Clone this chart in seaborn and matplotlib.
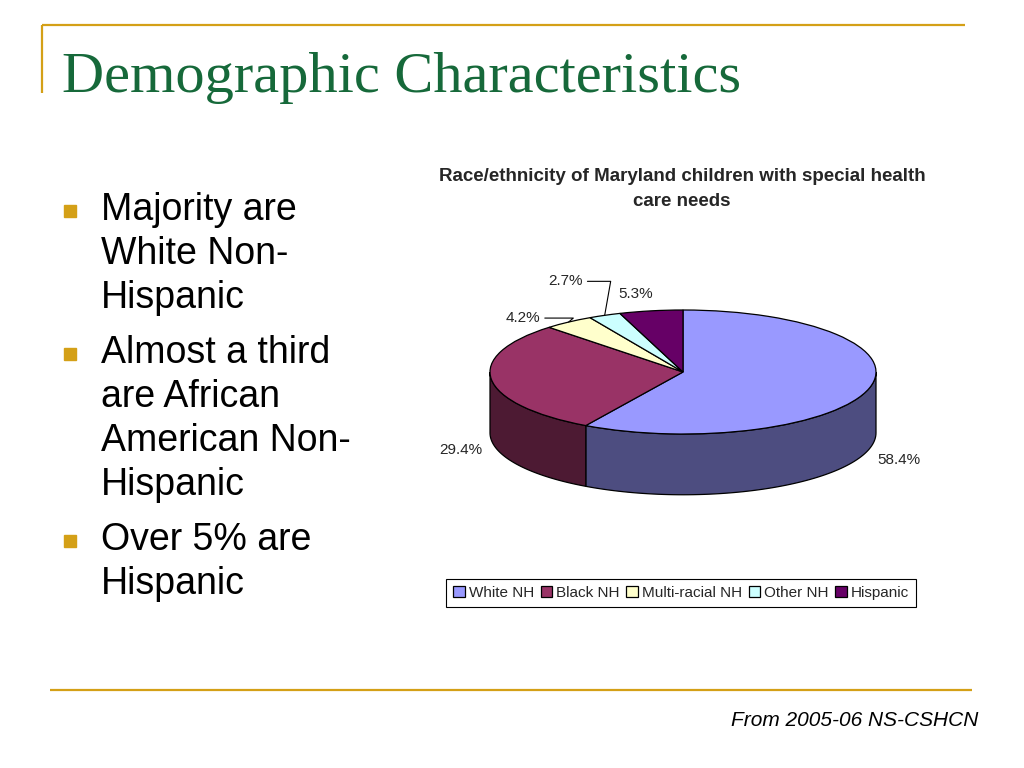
"""
Slide: Demographic Characteristics
3-D style pie of race/ethnicity for Maryland CSHCN, drawn with matplotlib/seaborn.
"""

import numpy as np
import matplotlib
matplotlib.use("Agg")
import matplotlib.pyplot as plt
import matplotlib.colors as mcolors
from matplotlib.patches import Polygon
import seaborn as sns


# =====================================================
# 1. Data
# =====================================================

groups = ["White NH", "Black NH", "Multi-racial NH", "Other NH", "Hispanic"]
shares = [58.4, 29.4, 4.2, 2.7, 5.3]
slice_colors = ["#9999FF", "#993366", "#FFFFCC", "#CCFFFF", "#660066"]

slide_title = "Demographic Characteristics"
chart_title = "Race/ethnicity of Maryland children with special health\ncare needs"
bullets = [
    ["Majority are", "White Non-", "Hispanic"],
    ["Almost a third", "are African", "American Non-", "Hispanic"],
    ["Over 5% are", "Hispanic"],
]
source_note = "From 2005-06 NS-CSHCN"


# =====================================================
# 2. Layout / style constants (pixels on a 1024x768 slide)
# =====================================================

W, H = 1024, 768
CX, CY = 683, 372          # pie centre
RX, RY = 193, 62           # ellipse radii
DEPTH = 0.98               # side wall height, in RY units
GOLD = "#D4A017"
GREEN = "#16693A"
NARROW = ["Liberation Sans Narrow", "Liberation Sans", "DejaVu Sans"]

# label placement per slice: (x factor, y factor, drop below, leader angle)
label_style = [
    (1.16, 1.16, 1.12, None),
    (1.16, 1.16, 1.12, None),
    (1.40, 1.08, 0.0, 40),
    (1.50, 1.60, 0.0, 80),
    (1.47, 1.28, 0.0, None),
]

sns.set_theme(style="white")
plt.rcParams["font.family"] = ["Liberation Sans", "DejaVu Sans"]

fig = plt.figure(figsize=(W / 100, H / 100), dpi=100)
fig.patch.set_facecolor("white")

# background axes in pixel coordinates for the slide decoration
bg = fig.add_axes([0, 0, 1, 1])
bg.set_xlim(0, W)
bg.set_ylim(H, 0)
bg.axis("off")

bg.plot([42, 965], [25, 25], color=GOLD, lw=1.6, solid_capstyle="butt")
bg.plot([42, 42], [25, 93], color=GOLD, lw=1.6, solid_capstyle="butt")
bg.plot([50, 972], [690, 690], color=GOLD, lw=1.6, solid_capstyle="butt")

bg.text(62, 92, slide_title, fontsize=42, color=GREEN,
        family=["Liberation Serif", "DejaVu Serif"], va="baseline", ha="left")

# bullets
y = 210
for lines in bullets:
    bg.plot([70], [y + 1], marker="s", markersize=8, color=GOLD, mec=GOLD)
    for line in lines:
        bg.text(101, y, line, fontsize=27, color="black", va="center", ha="left")
        y += 44
    y += 11

bg.text(978, 720, source_note, fontsize=15, style="italic", color="black",
        va="center", ha="right")

fig.text(682 / W, 1 - 189 / H, chart_title, fontsize=13.5, fontweight="bold",
         family=NARROW, ha="center", va="center", linespacing=1.65)


# =====================================================
# 3. Pie axes (x unit = RX px, y unit = RY px)
# =====================================================

xr = (-1.6, 1.6)
yr = (-2.2, 2.2)
ax = fig.add_axes([
    (CX + xr[0] * RX) / W,
    (H - (CY - yr[0] * RY)) / H,
    (xr[1] - xr[0]) * RX / W,
    (yr[1] - yr[0]) * RY / H,
])

bounds = 90 - np.cumsum([0] + shares) * 3.6

# side walls for the front half of the disc
for i, col in enumerate(slice_colors):
    lo = max(bounds[i + 1], -180)
    hi = min(bounds[i], 0)
    if lo >= hi:
        continue
    t = np.radians(np.linspace(lo, hi, 80))
    top = np.column_stack([np.cos(t), np.sin(t)])
    bot = top - [0, DEPTH]
    dark = np.array(mcolors.to_rgb(col)) * 0.5
    ax.add_patch(Polygon(np.vstack([top, bot[::-1]]), closed=True,
                         facecolor=dark, edgecolor="black", lw=0.9))

wedges, _ = ax.pie(shares, colors=slice_colors, startangle=90, counterclock=False,
                   radius=1, wedgeprops=dict(edgecolor="black", linewidth=0.9))

for i, v in enumerate(shares):
    mid = np.radians((bounds[i] + bounds[i + 1]) / 2)
    kx, ky, drop, lead = label_style[i]
    tx, ty = kx * np.cos(mid), ky * np.sin(mid) - drop
    txt = f"{v:.1f}%"
    if lead is None:
        ax.text(tx, ty, txt, fontsize=11, family=NARROW, ha="center", va="center")
    else:
        ax.annotate(txt, xy=(np.cos(mid), np.sin(mid)), xytext=(tx, ty),
                    fontsize=11, family=NARROW, ha="center", va="center",
                    arrowprops=dict(arrowstyle="-", color="black", lw=0.8,
                                    shrinkA=1, shrinkB=0,
                                    connectionstyle=f"angle,angleA=0,angleB={lead},rad=0"))

ax.set_aspect("auto")
ax.set_xlim(*xr)
ax.set_ylim(*yr)
ax.axis("off")

leg = fig.legend(wedges, groups, loc="center", bbox_to_anchor=(681 / W, 1 - 593 / H),
                 ncol=5, frameon=True, fancybox=False, edgecolor="black", framealpha=1,
                 handlelength=0.75, handleheight=0.75, handletextpad=0.25,
                 columnspacing=0.45, borderpad=0.45,
                 prop=dict(family=NARROW, size=11))
leg.get_frame().set_linewidth(0.8)

fig.savefig("out.png", dpi=100)
